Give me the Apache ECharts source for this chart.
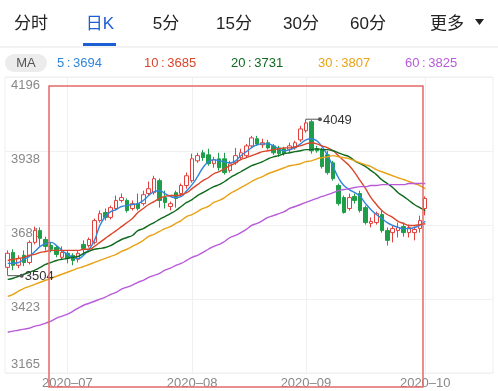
<!DOCTYPE html>
<html><head><meta charset="utf-8">
<script src="https://cdn.jsdelivr.net/npm/echarts@6/dist/echarts.min.js"></script>
<style>html,body{margin:0;padding:0;background:#fff}#c{width:498px;height:391px}</style>
</head><body><div id="c"></div>
<script>
// ---------- data ----------
const dates = [
 '2020-06-12','2020-06-15','2020-06-16','2020-06-17','2020-06-18','2020-06-19','2020-06-22','2020-06-23','2020-06-24','2020-06-29','2020-06-30',
 '2020-07-01','2020-07-02','2020-07-03','2020-07-06','2020-07-07','2020-07-08','2020-07-09','2020-07-10','2020-07-13','2020-07-14','2020-07-15','2020-07-16','2020-07-17','2020-07-20','2020-07-21','2020-07-22','2020-07-23','2020-07-24','2020-07-27','2020-07-28','2020-07-29','2020-07-30','2020-07-31',
 '2020-08-03','2020-08-04','2020-08-05','2020-08-06','2020-08-07','2020-08-10','2020-08-11','2020-08-12','2020-08-13','2020-08-14','2020-08-17','2020-08-18','2020-08-19','2020-08-20','2020-08-21','2020-08-24','2020-08-25','2020-08-26','2020-08-27','2020-08-28','2020-08-31',
 '2020-09-01','2020-09-02','2020-09-03','2020-09-04','2020-09-07','2020-09-08','2020-09-09','2020-09-10','2020-09-11','2020-09-14','2020-09-15','2020-09-16','2020-09-17','2020-09-18','2020-09-21','2020-09-22','2020-09-23','2020-09-24','2020-09-25','2020-09-28','2020-09-29','2020-09-30',
 '2020-10-09'
];
const emptySlots = 12;
const opens  = [3533,3585,3540,3575,3550,3620,3661,3630,3609,3602,3568,3582,3575,3561,3613,3609,3620,3696,3724,3707,3738,3766,3766,3738,3755,3755,3790,3793,3835,3776,3745,3793,3790,3818,3835,3904,3932,3925,3894,3911,3911,3870,3897,3915,3922,3956,3981,3960,3967,3956,3949,3946,3943,3949,3977,4009,4040,3946,3942,3925,3897,3818,3776,3738,3780,3790,3741,3686,3689,3717,3661,3654,3661,3675,3654,3654,3668,3738];
const closes = [3582,3540,3564,3550,3620,3661,3634,3606,3596,3578,3585,3564,3557,3582,3599,3630,3696,3720,3707,3741,3766,3776,3731,3755,3738,3786,3807,3842,3766,3759,3755,3773,3818,3852,3911,3922,3915,3894,3908,3880,3863,3894,3922,3932,3956,3984,3963,3967,3949,3932,3929,3929,3956,3967,4015,4036,3939,3939,3884,3863,3842,3755,3724,3776,3766,3731,3689,3693,3720,3661,3627,3668,3672,3654,3672,3665,3696,3773];
const lows   = [3504,3523,3530,3537,3543,3613,3606,3592,3585,3568,3561,3547,3540,3550,3575,3602,3613,3689,3696,3700,3731,3759,3724,3731,3731,3748,3783,3786,3741,3738,3731,3741,3780,3807,3828,3897,3904,3887,3880,3870,3856,3863,3890,3908,3915,3949,3956,3949,3943,3925,3918,3922,3932,3943,3970,4002,3929,3932,3877,3856,3835,3748,3720,3731,3755,3724,3682,3672,3682,3654,3609,3620,3637,3640,3637,3627,3654,3714];
const highs  = [3592,3596,3575,3592,3627,3675,3672,3640,3620,3609,3606,3592,3582,3592,3627,3637,3703,3731,3738,3748,3783,3790,3773,3766,3790,3800,3832,3852,3842,3800,3762,3800,3825,3863,3929,3932,3942,3946,3918,3932,3932,3904,3949,3946,3963,3991,3991,3981,3977,3963,3956,3953,3967,3974,4026,4049,4046,3956,3949,3939,3904,3825,3783,3790,3790,3800,3748,3707,3727,3731,3672,3679,3689,3689,3682,3675,3713,3780];

const ma5  = [3547,3547,3550,3561,3571,3588,3606,3616,3620,3609,3592,3578,3568,3564,3575,3596,3627,3679,3710,3727,3734,3745,3748,3752,3755,3766,3783,3797,3800,3790,3780,3776,3780,3800,3821,3849,3880,3901,3908,3904,3901,3897,3904,3922,3936,3950,3960,3963,3963,3956,3946,3939,3943,3950,3963,3977,3981,3974,3953,3922,3884,3845,3818,3804,3793,3780,3755,3734,3717,3703,3689,3679,3672,3668,3668,3672,3679,3694];
const ma10 = [3557,3561,3564,3568,3575,3578,3585,3588,3592,3592,3592,3592,3592,3592,3596,3596,3606,3620,3634,3648,3661,3675,3689,3703,3724,3738,3752,3762,3773,3780,3783,3783,3786,3793,3807,3821,3835,3845,3859,3866,3877,3887,3897,3908,3915,3922,3929,3936,3939,3943,3946,3949,3949,3953,3956,3963,3967,3963,3956,3949,3939,3922,3904,3887,3863,3835,3807,3776,3752,3731,3717,3707,3693,3686,3679,3679,3682,3685];
const ma20 = [3491,3495,3502,3509,3516,3523,3533,3543,3550,3557,3561,3564,3568,3571,3582,3589,3596,3599,3602,3609,3620,3630,3637,3644,3661,3668,3679,3689,3700,3710,3720,3731,3745,3759,3769,3783,3793,3804,3814,3821,3832,3845,3856,3866,3877,3887,3894,3901,3911,3918,3922,3929,3932,3936,3939,3943,3943,3946,3943,3943,3939,3932,3925,3918,3904,3894,3884,3870,3856,3838,3825,3811,3793,3780,3766,3752,3741,3731];
const ma30 = [3432,3439,3450,3460,3467,3474,3481,3488,3495,3502,3509,3516,3523,3530,3536,3543,3550,3557,3564,3571,3578,3589,3596,3606,3616,3627,3641,3648,3658,3668,3675,3686,3696,3710,3717,3727,3738,3745,3759,3766,3776,3790,3800,3811,3821,3832,3842,3849,3859,3866,3873,3880,3887,3890,3894,3901,3904,3911,3915,3918,3922,3918,3915,3911,3904,3897,3890,3884,3873,3866,3859,3852,3845,3839,3832,3825,3818,3807];
const ma60 = [3307,3311,3314,3318,3321,3328,3332,3339,3346,3356,3363,3370,3380,3391,3401,3408,3415,3422,3429,3439,3446,3457,3464,3471,3481,3488,3498,3505,3512,3523,3530,3540,3547,3557,3568,3575,3585,3596,3606,3613,3623,3637,3644,3654,3665,3679,3686,3696,3707,3713,3720,3727,3738,3745,3752,3759,3766,3773,3780,3786,3793,3800,3804,3807,3811,3814,3814,3818,3818,3821,3821,3821,3821,3821,3825,3825,3825,3825];

const yTickLabels = ['3165','3423','3681','3938','4196'];
const monthTicks = ['2020-07-01','2020-08-03','2020-09-01','2020-10-09'];
const extremeIdx = [55, 0];
const extremeVal = [4049, 3504];
const tabs = ['分时','日K','5分','15分','30分','60分','更多'];
const maNames = ['5','10','20','30','60'];

// ---------- layout / style ----------
const tabX = [31, 100, 166, 234, 301, 368, 447];
const maX = [57, 144, 231, 318, 405];
const maColors = ['#2f86dc','#d9462b','#0f6a1e','#e8a316','#b85bd8'];
const numFont = '"Liberation Sans", "Noto Sans CJK SC", sans-serif';

const categories = dates.concat(Array.from({length: emptySlots}, (_, k) => 'slot' + k));
const candles = opens.map((o, i) => [o, closes[i], lows[i], highs[i]]);
const maSeries = [ma5, ma10, ma20, ma30, ma60];
const yMin = Number(yTickLabels[0]), yMax = Number(yTickLabels[yTickLabels.length - 1]);

const chart = echarts.init(document.getElementById('c'), null, {renderer: 'canvas'});

const graphics = [];
tabs.forEach((t, i) => {
  graphics.push({type: 'text', z: 10,
    style: {text: t, x: tabX[i], y: 24, align: 'center', verticalAlign: 'middle',
      fill: i === 1 ? '#1c5fd4' : '#222', font: '17px ' + numFont}});
});
graphics.push({type: 'polygon', z: 10, shape: {points: [[475, 19], [484, 19], [479.5, 25]]}, style: {fill: '#222'}});
graphics.push({type: 'rect', z: 10, shape: {x: 83, y: 43, width: 33, height: 3}, style: {fill: '#1c5fd4'}});
graphics.push({type: 'rect', z: 9, shape: {x: 0, y: 46.5, width: 498, height: 1}, style: {fill: '#e6e6e6'}});
graphics.push({type: 'rect', z: 10, shape: {x: 5, y: 54, width: 42, height: 18, r: 9}, style: {fill: '#ececec'}});
graphics.push({type: 'text', z: 11, style: {text: 'MA', x: 26, y: 63, align: 'center', verticalAlign: 'middle', fill: '#555', font: '13px ' + numFont}});
maNames.forEach((n, i) => {
  const arr = maSeries[i];
  graphics.push({type: 'text', z: 11, style: {text: n + '\u2009:\u2009' + arr[arr.length - 1], x: maX[i], y: 63,
    align: 'left', verticalAlign: 'middle', fill: maColors[i], font: '13px ' + numFont}});
});
graphics.push({type: 'rect', z: 100, shape: {x: 49, y: 86, width: 374, height: 301},
  style: {fill: 'none', stroke: '#e46868', lineWidth: 1.5}});

const option = {
  animation: false,
  backgroundColor: '#fff',
  grid: {left: 5, right: 5, top: 77, bottom: 18, containLabel: false, show: true, borderColor: '#eeeeee', borderWidth: 1},
  xAxis: {
    type: 'category', data: categories, boundaryGap: true,
    axisLine: {show: false}, axisTick: {show: false},
    axisLabel: {interval: (i, v) => monthTicks.includes(v),
      formatter: v => v.slice(0, 7).replace('-', '–'), color: '#888', fontSize: 13, fontFamily: numFont, margin: 4},
    splitLine: {show: true, interval: (i, v) => monthTicks.includes(v), alignWithLabel: true, lineStyle: {color: '#f0f0f0', width: 1}}
  },
  yAxis: [
    {type: 'value', min: 0, max: yTickLabels.length - 1, interval: 1, position: 'left',
      axisLine: {show: false}, axisTick: {show: false},
      axisLabel: {inside: true, margin: 6, verticalAlign: 'top', padding: [2, 0, 0, 0], color: '#888', fontSize: 13, fontFamily: numFont,
        formatter: v => v === 0 ? '' : yTickLabels[v]},
      splitLine: {show: true, lineStyle: {color: '#f0f0f0'}}},
    {type: 'value', min: yMin, max: yMax, show: false, position: 'left'},
    {type: 'value', min: 0, max: yTickLabels.length - 1, interval: 1, position: 'left',
      axisLine: {show: false}, axisTick: {show: false}, splitLine: {show: false},
      axisLabel: {inside: true, margin: 6, verticalAlign: 'bottom', padding: [0, 0, 2, 0], color: '#888', fontSize: 13, fontFamily: numFont,
        formatter: v => v === 0 ? yTickLabels[0] : ''}}
  ],
  series: [
    {type: 'candlestick', yAxisIndex: 1, data: candles, barWidth: 4, z: 3,
      itemStyle: {color: '#ffffff', color0: '#1e9e48', borderColor: '#e2403c', borderColor0: '#1e9e48', borderWidth: 1}},
    ...maSeries.map((arr, i) => ({type: 'line', yAxisIndex: 1, data: arr, smooth: true, showSymbol: false, z: 4,
      lineStyle: {color: maColors[i], width: 1.4}, silent: true})),
    {type: 'custom', yAxisIndex: 1, z: 6, silent: true,
      data: extremeIdx.map((ix, k) => [ix, extremeVal[k]]),
      renderItem: (params, api) => {
        const p = api.coord([api.value(0), api.value(1)]);
        const len = 14;
        return {type: 'group', children: [
          {type: 'line', shape: {x1: p[0], y1: p[1], x2: p[0] + len, y2: p[1]}, style: {stroke: '#555', lineWidth: 1}},
          {type: 'circle', shape: {cx: p[0] + len, cy: p[1], r: 2}, style: {fill: '#555'}},
          {type: 'text', style: {text: String(api.value(1)), x: p[0] + len + 3, y: p[1] + 1, verticalAlign: 'middle',
            fill: '#333', font: '13px ' + numFont}}
        ]};
      }}
  ],
  graphic: graphics
};
chart.setOption(option);
</script></body></html>
